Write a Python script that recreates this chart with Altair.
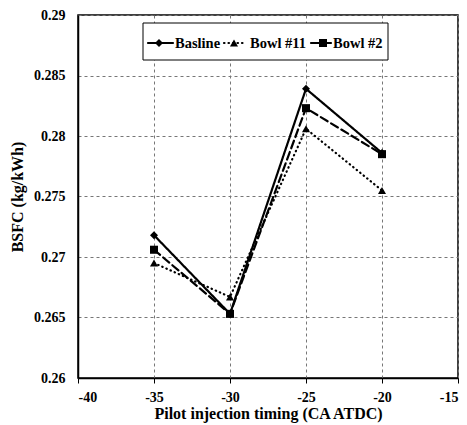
import altair as alt
import pandas as pd

timing = [-35, -30, -25, -20]
baseline = [0.2718, 0.2653, 0.2839, 0.2786]
bowl11 = [0.2695, 0.2667, 0.2806, 0.2755]
bowl2 = [0.2706, 0.2653, 0.2823, 0.2785]
series = ["Basline", "Bowl #11", "Bowl #2"]
shapes = ["diamond", "triangle-up", "square"]
dashes = [[1, 0], [0.5, 4], [8, 4]]
x_ticks = [-40, -35, -30, -25, -20, -15]
y_ticks = [0.26, 0.265, 0.27, 0.275, 0.28, 0.285, 0.29]

rows = []
for name, vals in zip(series, [baseline, bowl11, bowl2]):
    for t, v in zip(timing, vals):
        rows.append({"timing": t, "bsfc": v, "series": name})
df = pd.DataFrame(rows)

FONT = "Liberation Serif"

x = alt.X("timing:Q", scale=alt.Scale(domain=[-40, -15], nice=False),
          axis=alt.Axis(values=x_ticks, title="Pilot injection timing (CA ATDC)",
                        labelExpr="'' + datum.value", labelPadding=7, titlePadding=1))
y = alt.Y("bsfc:Q", scale=alt.Scale(domain=[0.26, 0.29], nice=False, zero=False),
          axis=alt.Axis(values=y_ticks, format=".3~f", ticks=False, labelPadding=13,
                        title="BSFC (kg/kWh)", titlePadding=8))

lines = alt.Chart(df).mark_line(strokeWidth=2.2, color="black", strokeCap="round").encode(
    x=x, y=y,
    strokeDash=alt.StrokeDash("series:N", scale=alt.Scale(domain=series, range=dashes), legend=None),
    detail="series:N",
)
points = alt.Chart(df).mark_point(filled=True, color="black", opacity=1).encode(
    x=x, y=y,
    shape=alt.Shape("series:N", scale=alt.Scale(domain=series, range=shapes), legend=None),
    size=alt.value(65),
)

# legend box (manual)
one = pd.DataFrame({"a": [0]})
box = alt.Chart(one).mark_rect(fill="white", stroke="black", strokeWidth=1).encode(
    x=alt.value(65), x2=alt.value(310), y=alt.value(8), y2=alt.value(45)
)
leg_y = 28
leg_layers = []
leg_specs = [
    (series[0], 70, 95, 81, 97, [1, 0], "diamond"),
    (series[1], 146, 166, 156, 172, [0.5, 4], "triangle-up"),
    (series[2], 233, 253, 245, 255, [8, 4], "square"),
]
for label, x1, x2, xm, xt, dash, shp in leg_specs:
    leg_layers.append(alt.Chart(one).mark_rule(strokeWidth=2.2, color="black", strokeDash=dash,
                                               strokeCap="round").encode(
        x=alt.value(x1), x2=alt.value(x2), y=alt.value(leg_y)))
    leg_layers.append(alt.Chart(one).mark_point(filled=True, color="black", opacity=1, shape=shp, size=65).encode(
        x=alt.value(xm), y=alt.value(leg_y)))
    leg_layers.append(alt.Chart(one).mark_text(text=label, align="left", baseline="middle", font=FONT,
                                               fontWeight="bold", fontSize=14.5, color="black").encode(
        x=alt.value(xt), y=alt.value(leg_y + 1)))

chart = alt.layer(lines, points, box, *leg_layers).properties(
    width=380, height=363,
    autosize=alt.AutoSizeParams(type="none"),
    padding={"left": 70, "top": 7, "right": 1, "bottom": 46},
).configure_view(stroke="black", strokeWidth=1.5).configure_axis(
    grid=True, gridColor="#777777", gridDash=[3, 3], gridWidth=1,
    domainColor="black", domainWidth=1.5, tickColor="black", tickSize=5,
    labelFont=FONT, labelFontWeight="bold", labelFontSize=14, labelColor="black",
    titleFont=FONT, titleFontWeight="bold", titleFontSize=16, titleColor="black",
)

chart.save("out.html", embed_options={"renderer": "svg", "actions": False})
